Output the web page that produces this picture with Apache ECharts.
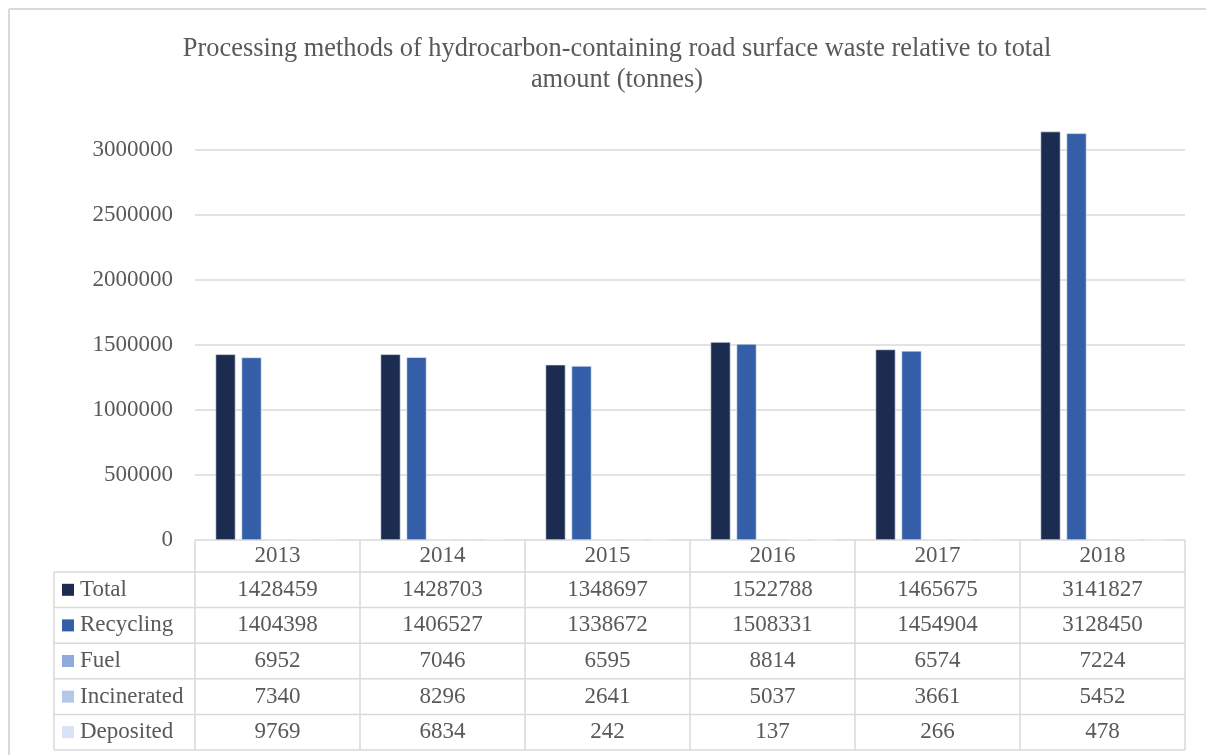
<!DOCTYPE html>
<html>
<head>
<meta charset="utf-8">
<script src="https://cdn.jsdelivr.net/npm/echarts@6/dist/echarts.min.js"></script>
<style>
  html, body { margin: 0; padding: 0; background: #fff; }
  #chart { width: 1206px; height: 755px; }
</style>
</head>
<body>
<div id="chart"></div>
<script>
// Road surface waste processing, tonnes per year
const years = ['2013', '2014', '2015', '2016', '2017', '2018'];
const seriesNames = ['Total', 'Recycling', 'Fuel', 'Incinerated', 'Deposited'];
const total       = [1428459, 1428703, 1348697, 1522788, 1465675, 3141827];
const recycling   = [1404398, 1406527, 1338672, 1508331, 1454904, 3128450];
const fuel        = [6952, 7046, 6595, 8814, 6574, 7224];
const incinerated = [7340, 8296, 2641, 5037, 3661, 5452];
const deposited   = [9769, 6834, 242, 137, 266, 478];
const yTicks = [0, 500000, 1000000, 1500000, 2000000, 2500000, 3000000];

const seriesValues = [total, recycling, fuel, incinerated, deposited];
const colors = ['#1b2c50', '#345fa8', '#8faadc', '#b4c7e7', '#dae3f3'];

const FONT = '"Liberation Serif", "Times New Roman", serif';
const TXT = '#595959';
const LINE = '#d9d9d9';
const FS = 23;
const TITLE_FS = 26.4;

// layout of plot and data table
const gridLeft = 195, gridRight = 21, gridTop = 85, axisY = 540;
const W = 1206, H = 755;
const plotRight = W - gridRight;
const colW = (plotRight - gridLeft) / years.length;
const tableLeft = 54;
const headerBottom = 572;
const rowH = 35.6;

const chart = echarts.init(document.getElementById('chart'), null, { renderer: 'canvas' });

const graphics = [];
// outer frame
graphics.push({ type: 'line', shape: { x1: 9, y1: 9, x2: W, y2: 9 }, style: { stroke: LINE, lineWidth: 2 } });
graphics.push({ type: 'line', shape: { x1: 9, y1: 9, x2: 9, y2: H }, style: { stroke: LINE, lineWidth: 2 } });

const tableBottom = headerBottom + rowH * seriesNames.length;
// horizontal rules
graphics.push({ type: 'line', shape: { x1: gridLeft, y1: axisY, x2: plotRight, y2: axisY }, style: { stroke: LINE, lineWidth: 1.5 } });
for (let r = 0; r <= seriesNames.length; r++) {
  const y = headerBottom + r * rowH;
  graphics.push({ type: 'line', shape: { x1: tableLeft, y1: y, x2: plotRight, y2: y }, style: { stroke: LINE, lineWidth: 1.5 } });
}
// vertical rules
graphics.push({ type: 'line', shape: { x1: tableLeft, y1: headerBottom, x2: tableLeft, y2: tableBottom }, style: { stroke: LINE, lineWidth: 1.5 } });
for (let c = 0; c <= years.length; c++) {
  const x = gridLeft + c * colW;
  graphics.push({ type: 'line', shape: { x1: x, y1: axisY, x2: x, y2: tableBottom }, style: { stroke: LINE, lineWidth: 1.5 } });
}
// row headers with colour keys, and cell values
seriesNames.forEach((name, r) => {
  const cy = headerBottom + r * rowH + rowH / 2;
  graphics.push({ type: 'rect', shape: { x: 62, y: cy - 6, width: 12, height: 12 }, style: { fill: colors[r] } });
  graphics.push({ type: 'text', x: 80, y: cy, style: { text: name, font: FS + 'px ' + FONT, fill: TXT, textAlign: 'left', textVerticalAlign: 'middle' } });
  seriesValues[r].forEach((v, c) => {
    graphics.push({ type: 'text', x: gridLeft + c * colW + colW / 2, y: cy,
      style: { text: String(v), font: FS + 'px ' + FONT, fill: TXT, textAlign: 'center', textVerticalAlign: 'middle' } });
  });
});

chart.setOption({
  animation: false,
  color: colors,
  title: {
    text: 'Processing methods of hydrocarbon-containing road surface waste relative to total\namount (tonnes)',
    left: 612, top: 29, textAlign: 'center',
    textStyle: { fontFamily: FONT, fontSize: TITLE_FS, fontWeight: 'normal', color: TXT, lineHeight: 31 }
  },
  grid: { left: gridLeft, right: gridRight, top: gridTop, bottom: H - axisY, containLabel: false },
  xAxis: {
    type: 'category', data: years,
    axisLine: { show: false }, axisTick: { show: false },
    axisLabel: { margin: 16, verticalAlign: 'middle', fontFamily: FONT, fontSize: FS, color: TXT }
  },
  yAxis: {
    type: 'value', min: 0, max: 3500000, interval: 500000,
    axisLine: { show: false }, axisTick: { show: false },
    splitLine: { show: true, showMinLine: false, showMaxLine: false, lineStyle: { color: LINE, width: 1.5 } },
    axisLabel: {
      margin: 22, showMaxLabel: false, fontFamily: FONT, fontSize: FS, color: TXT,
      formatter: v => (yTicks.indexOf(v) >= 0 ? String(v) : '')
    }
  },
  series: seriesNames.map((name, i) => ({
    name, type: 'bar', data: seriesValues[i], barWidth: 20, barGap: '30%',
    itemStyle: { color: colors[i], borderColor: '#eef1f7', borderWidth: 0.6 }
  })),
  graphic: graphics
});
</script>
</body>
</html>
